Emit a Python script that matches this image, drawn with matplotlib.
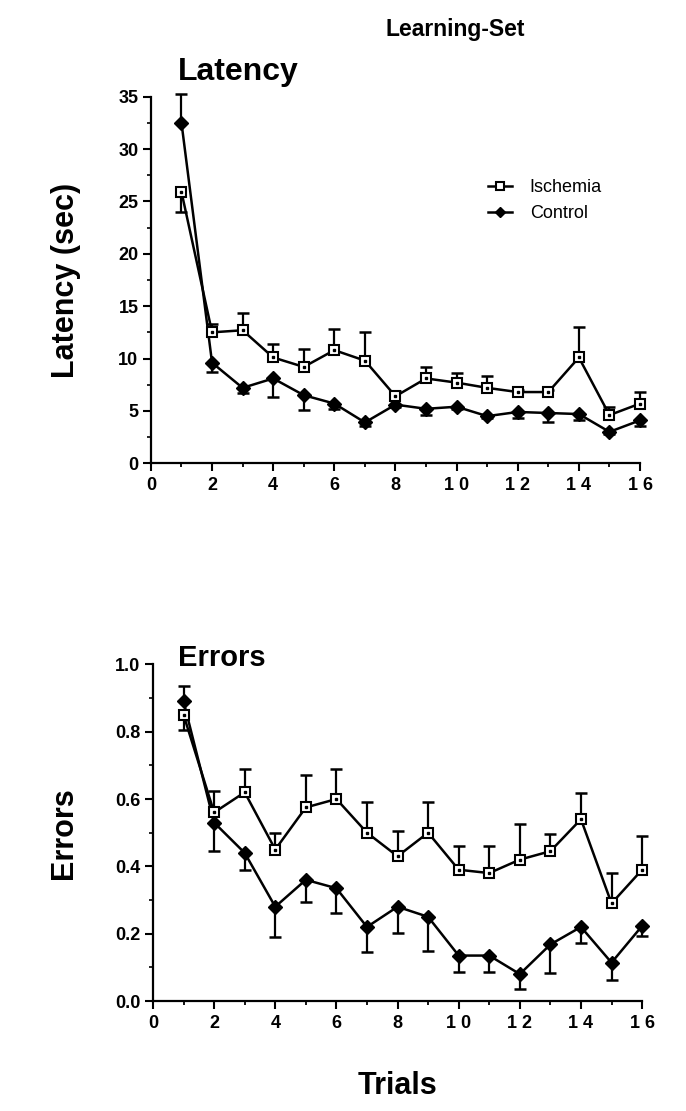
import numpy as np
import matplotlib
matplotlib.use("Agg")
import matplotlib.pyplot as plt
from matplotlib.ticker import MultipleLocator, FixedLocator, FormatStrFormatter

plt.rcParams['font.family'] = ['Liberation Sans', 'DejaVu Sans']

trials = list(range(1, 17))
xtick_vals = [0, 2, 4, 6, 8, 10, 12, 14, 16]
xtick_labels = ["0", "2", "4", "6", "8", "1 0", "1 2", "1 4", "1 6"]

lat_isch = [25.9, 12.5, 12.7, 10.1, 9.2, 10.8, 9.8, 6.4, 8.1, 7.7, 7.2, 6.8, 6.8, 10.1, 4.6, 5.7]
lat_isch_sem = [1.9, 0.8, 1.6, 1.3, 1.7, 2.0, 2.7, 0.5, 1.1, 0.9, 1.1, 0.2, 0.2, 2.9, 0.8, 1.1]
lat_ctrl = [32.5, 9.6, 7.2, 8.1, 6.5, 5.7, 3.9, 5.6, 5.2, 5.4, 4.5, 4.9, 4.8, 4.7, 3.0, 4.1]
lat_ctrl_sem = [2.8, 0.9, 0.5, 1.8, 1.4, 0.5, 0.3, 0.2, 0.6, 0.2, 0.2, 0.6, 0.9, 0.6, 0.2, 0.5]

err_isch = [0.85, 0.56, 0.62, 0.45, 0.575, 0.60, 0.50, 0.43, 0.50, 0.39, 0.38, 0.42, 0.445, 0.54, 0.29, 0.39]
err_isch_sem = [0.045, 0.065, 0.07, 0.05, 0.095, 0.09, 0.09, 0.075, 0.09, 0.07, 0.08, 0.105, 0.05, 0.077, 0.09, 0.10]
err_ctrl = [0.89, 0.53, 0.44, 0.28, 0.36, 0.335, 0.22, 0.28, 0.25, 0.135, 0.135, 0.08, 0.168, 0.22, 0.114, 0.223]
err_ctrl_sem = [0.045, 0.085, 0.05, 0.09, 0.065, 0.075, 0.075, 0.077, 0.10, 0.05, 0.05, 0.045, 0.085, 0.048, 0.053, 0.03]

# direction of the one-sided error bars (+1 up, -1 down)
isch_dir = [-1] + [1] * 15
ctrl_dir = [1] + [-1] * 15

fig = plt.figure(figsize=(6.86, 11.11), dpi=100)
ax1 = fig.add_axes([0.220, 0.583, 0.713, 0.330])
ax2 = fig.add_axes([0.223, 0.099, 0.713, 0.303])


def one_sided(ax, x, y, e, d, zorder):
    x = np.asarray(x, float)
    y = np.asarray(y, float)
    ends = y + np.asarray(d) * np.asarray(e)
    ax.vlines(x, y, ends, color='black', lw=1.6, zorder=zorder, clip_on=False)
    ax.plot(x, ends, ls='none', marker='_', ms=8, mew=1.8, color='black',
            zorder=zorder, clip_on=False)


def draw(ax, yi, ei, yc, ec):
    one_sided(ax, trials, yi, ei, isch_dir, 2)
    one_sided(ax, trials, yc, ec, ctrl_dir, 2)
    ax.plot(trials, yi, color='black', lw=1.8, marker='s', ms=7.5, mfc='white',
            mec='black', mew=1.5, zorder=4, label='Ischemia', clip_on=False)
    ax.plot(trials, yi, ls='none', marker='s', ms=1.6, color='black', zorder=5,
            clip_on=False)
    ax.plot(trials, yc, color='black', lw=1.8, marker='D', ms=7.5, mfc='black',
            mec='black', zorder=3, label='Control', clip_on=False)
    for s in ['top', 'right']:
        ax.spines[s].set_visible(False)
    for s in ['left', 'bottom']:
        ax.spines[s].set_linewidth(1.6)
    ax.set_xlim(0, 16)
    ax.xaxis.set_major_locator(FixedLocator(xtick_vals))
    ax.set_xticklabels(xtick_labels)
    ax.xaxis.set_minor_locator(MultipleLocator(1))
    ax.tick_params(axis='x', which='major', direction='out', length=6, width=1.5,
                   labelsize=13, pad=4)
    ax.tick_params(axis='x', which='minor', direction='out', length=3, width=1.3)
    ax.tick_params(axis='y', which='major', direction='out', length=6, width=1.5,
                   labelsize=13, pad=3)
    ax.tick_params(axis='y', which='minor', direction='out', length=3, width=1.2)


draw(ax1, lat_isch, lat_isch_sem, lat_ctrl, lat_ctrl_sem)
ax1.set_ylim(0, 35)
ax1.yaxis.set_major_locator(MultipleLocator(5))
ax1.yaxis.set_minor_locator(MultipleLocator(2.5))
ax1.set_ylabel('Latency (sec)', fontsize=22, fontweight='bold', labelpad=27)
ax1.legend(loc='upper right', bbox_to_anchor=(0.955, 0.82), frameon=False,
           fontsize=13, handlelength=1.3, handletextpad=1.0, labelspacing=0.5,
           markerscale=0.7)

draw(ax2, err_isch, err_isch_sem, err_ctrl, err_ctrl_sem)
ax2.set_ylim(0, 1.0)
ax2.yaxis.set_major_locator(MultipleLocator(0.2))
ax2.yaxis.set_minor_locator(MultipleLocator(0.1))
ax2.yaxis.set_major_formatter(FormatStrFormatter('%.1f'))
ax2.set_ylabel('Errors', fontsize=22, fontweight='bold', labelpad=26)
ax2.set_xlabel('Trials', fontsize=22, fontweight='bold', labelpad=28)

for ax in (ax1, ax2):
    for lab in ax.get_xticklabels() + ax.get_yticklabels():
        lab.set_fontweight('bold')

fig.text(0.663, 0.973, 'Learning-Set', fontsize=16.5, fontweight='bold',
         ha='center', va='center')
fig.text(0.259, 0.935, 'Latency', fontsize=23, fontweight='bold', ha='left', va='center')
fig.text(0.259, 0.408, 'Errors', fontsize=21, fontweight='bold', ha='left', va='center')

fig.savefig('out.png', dpi=100)
